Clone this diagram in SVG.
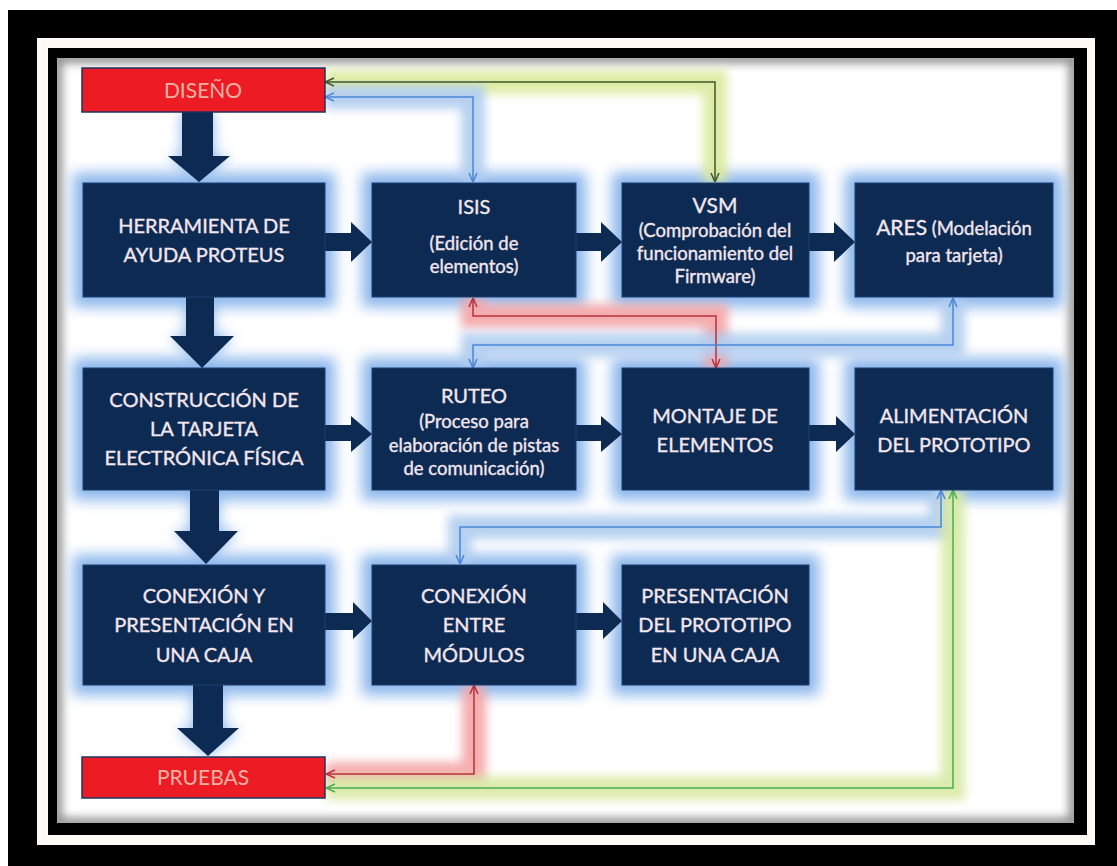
<svg xmlns="http://www.w3.org/2000/svg" width="1117" height="866" viewBox="0 0 1117 866">
<defs>
<style>
.box{fill:#0c2a52;stroke:#1c3f70;stroke-width:1}
.glowbox{fill:#8ab6ec;filter:url(#blur6)}
.t{font-family:Lato,"Liberation Sans",sans-serif;fill:#f3e6ee;text-anchor:middle;font-size:20px;stroke:#f3e6ee;stroke-width:0.35}
.s{font-size:18.5px}
.red{fill:#ed1c24;stroke:#1e3560;stroke-width:1.5}
.rt{font-family:Lato,"Liberation Sans",sans-serif;fill:#f3b2a4;text-anchor:middle;font-size:21px}
.big{fill:#0c2a52}
.line{fill:none;stroke-width:1.5}
.halo{fill:none;stroke-width:24;filter:url(#blur5);stroke-linejoin:miter;opacity:0.9}
</style>
<filter id="blur6" x="-30%" y="-30%" width="160%" height="160%"><feGaussianBlur stdDeviation="7"/></filter>
<filter id="blur5" x="-20%" y="-20%" width="140%" height="140%"><feGaussianBlur stdDeviation="5"/></filter>
<filter id="inner" x="-5%" y="-5%" width="110%" height="110%"><feGaussianBlur stdDeviation="5"/></filter>
<clipPath id="clipIn"><rect x="57" y="58" width="1017" height="765"/></clipPath>
<marker id="mG" viewBox="0 0 10 10" refX="10" refY="5" markerWidth="10" markerHeight="10" markerUnits="userSpaceOnUse" orient="auto-start-reverse"><path d="M1,1 L10,5 L1,9" fill="none" stroke="#3d5a2a" stroke-width="1.5"/></marker>
<marker id="mB" viewBox="0 0 10 10" refX="10" refY="5" markerWidth="10" markerHeight="10" markerUnits="userSpaceOnUse" orient="auto-start-reverse"><path d="M1,1 L10,5 L1,9" fill="none" stroke="#4a86d8" stroke-width="1.5"/></marker>
<marker id="mR" viewBox="0 0 10 10" refX="10" refY="5" markerWidth="10" markerHeight="10" markerUnits="userSpaceOnUse" orient="auto-start-reverse"><path d="M1,1 L10,5 L1,9" fill="none" stroke="#b8303c" stroke-width="1.5"/></marker>
<marker id="mL" viewBox="0 0 10 10" refX="10" refY="5" markerWidth="10" markerHeight="10" markerUnits="userSpaceOnUse" orient="auto-start-reverse"><path d="M1,1 L10,5 L1,9" fill="none" stroke="#4cae4c" stroke-width="1.5"/></marker>
</defs>

<!-- frame -->
<rect x="0" y="0" width="1117" height="866" fill="#ffffff"/>
<rect x="8" y="10" width="1109" height="856" fill="#000000"/>
<rect x="37" y="38" width="1058" height="807" fill="#fffaf6"/>
<rect x="48" y="48" width="1039" height="787" fill="#000000"/>
<rect x="57" y="58" width="1017" height="765" fill="#ffffff"/>
<g clip-path="url(#clipIn)"><rect x="57" y="58" width="1017" height="765" fill="none" stroke="#8a8a8a" stroke-width="10" filter="url(#inner)"/></g>

<!-- glows -->
<g id="glows">
<rect class="glowbox" x="73" y="173" width="262" height="134"/>
<rect class="glowbox" x="362" y="173" width="224" height="134"/>
<rect class="glowbox" x="612" y="173" width="207" height="134"/>
<rect class="glowbox" x="845" y="173" width="218" height="134"/>
<rect class="glowbox" x="73" y="358" width="262" height="142"/>
<rect class="glowbox" x="362" y="358" width="224" height="142"/>
<rect class="glowbox" x="612" y="358" width="207" height="142"/>
<rect class="glowbox" x="845" y="358" width="218" height="142"/>
<rect class="glowbox" x="73" y="555" width="262" height="140"/>
<rect class="glowbox" x="362" y="555" width="224" height="140"/>
<rect class="glowbox" x="612" y="555" width="207" height="140"/>
<path d="M182,112 V156 H168 L199,182 L230,156 H213 V112 Z" fill="#8ab6ec" filter="url(#blur6)"/>
<path d="M186,297 V336 H170 L202,368 L234,336 H214 V297 Z" fill="#8ab6ec" filter="url(#blur6)"/>
<path d="M190,490 V531 H174 L206,564 L238,531 H219 V490 Z" fill="#8ab6ec" filter="url(#blur6)"/>
<path d="M193,685 V728 H177 L208,756 L239,728 H223 V685 Z" fill="#8ab6ec" filter="url(#blur6)"/>
</g>

<!-- connector halos -->
<g id="halos">
<path class="halo" d="M325,82 H715 V182" stroke="#dbe99c"/>
<path class="halo" d="M325,97 H473 V182" stroke="#b0ccf0"/>
<path class="halo" d="M473,298 V316 H716 V368" stroke="#f4a4a6"/>
<path class="halo" d="M953,298 V345 H473 V368" stroke="#b0ccf0"/>
<path class="halo" d="M941,490 V527 H460 V564" stroke="#b0ccf0"/>
<path class="halo" d="M474,685 V774 H326" stroke="#f4a4a6"/>
<path class="halo" d="M326,788 H953 V490" stroke="#d8eaa6"/>
</g>

<!-- big arrows -->
<g id="flow-arrows">
<path class="big" d="M182,112 V156 H168 L199,182 L230,156 H213 V112 Z"/>
<path class="big" d="M186,297 V336 H170 L202,368 L234,336 H214 V297 Z"/>
<path class="big" d="M190,490 V531 H174 L206,564 L238,531 H219 V490 Z"/>
<path class="big" d="M193,685 V728 H177 L208,756 L239,728 H223 V685 Z"/>
<path class="big" d="M325,233 H351 V222 L372,242 L351,262 V251 H325 Z"/>
<path class="big" d="M576,233 H601 V222 L622,242 L601,262 V251 H576 Z"/>
<path class="big" d="M809,233 H834 V222 L855,242 L834,262 V251 H809 Z"/>
<path class="big" d="M325,425 H351 V416 L372,434 L351,452 V441 H325 Z"/>
<path class="big" d="M576,425 H601 V416 L622,434 L601,452 V441 H576 Z"/>
<path class="big" d="M809,425 H836 V416 L855,434 L836,452 V441 H809 Z"/>
<path class="big" d="M325,613 H353 V602 L372,621 L353,639 V630 H325 Z"/>
<path class="big" d="M576,613 H603 V602 L622,621 L603,639 V630 H576 Z"/>
</g>

<!-- connectors -->
<g id="connectors">
<path class="line" d="M325,82 H715 V182" stroke="#3d5a2a" marker-start="url(#mG)" marker-end="url(#mG)"/>
<path class="line" d="M325,97 H473 V182" stroke="#4a86d8" marker-start="url(#mB)" marker-end="url(#mB)"/>
<path class="line" d="M473,298 V316 H716 V368" stroke="#b8303c" marker-start="url(#mR)" marker-end="url(#mR)"/>
<path class="line" d="M953,298 V345 H473 V368" stroke="#4a86d8" marker-start="url(#mB)" marker-end="url(#mB)"/>
<path class="line" d="M941,490 V527 H460 V564" stroke="#4a86d8" marker-start="url(#mB)" marker-end="url(#mB)"/>
<path class="line" d="M474,685 V774 H326" stroke="#b8303c" marker-start="url(#mR)" marker-end="url(#mR)"/>
<path class="line" d="M326,788 H953 V490" stroke="#4cae4c" marker-start="url(#mL)" marker-end="url(#mL)"/>
</g>

<!-- nodes -->
<g id="diseno"><rect class="red" x="82" y="68" width="243" height="44"/><text class="rt" x="203" y="98">DISEÑO</text></g>
<g id="pruebas"><rect class="red" x="82" y="757" width="243" height="41"/><text class="rt" x="203" y="785">PRUEBAS</text></g>

<g id="herramienta"><rect class="box" x="83" y="183" width="242" height="114"/>
<text class="t" x="204" y="233">HERRAMIENTA DE</text><text class="t" x="204" y="262">AYUDA PROTEUS</text></g>
<g id="isis"><rect class="box" x="372" y="183" width="204" height="114"/>
<text class="t" x="474" y="214">ISIS</text><text class="t s" x="474" y="250">(Edición de</text><text class="t s" x="474" y="273">elementos)</text></g>
<g id="vsm"><rect class="box" x="622" y="183" width="187" height="114"/>
<text class="t" x="715" y="213" style="font-size:21px">VSM</text><text class="t s" x="715" y="237">(Comprobación del</text><text class="t s" x="715" y="260">funcionamiento del</text><text class="t s" x="715" y="283">Firmware)</text></g>
<g id="ares"><rect class="box" x="855" y="183" width="198" height="114"/>
<text class="t" x="954" y="235"><tspan style="font-size:21px">ARES</tspan><tspan class="s"> (Modelación</tspan></text><text class="t s" x="954" y="262">para tarjeta)</text></g>

<g id="construccion"><rect class="box" x="83" y="368" width="242" height="122"/>
<text class="t" x="204" y="407">CONSTRUCCIÓN DE</text><text class="t" x="204" y="436">LA TARJETA</text><text class="t" x="204" y="465">ELECTRÓNICA FÍSICA</text></g>
<g id="ruteo"><rect class="box" x="372" y="368" width="204" height="122"/>
<text class="t" x="474" y="403">RUTEO</text><text class="t s" x="474" y="428">(Proceso para</text><text class="t s" x="474" y="452">elaboración de pistas</text><text class="t s" x="474" y="475">de comunicación)</text></g>
<g id="montaje"><rect class="box" x="622" y="368" width="187" height="122"/>
<text class="t" x="715" y="423">MONTAJE DE</text><text class="t" x="715" y="452">ELEMENTOS</text></g>
<g id="alimentacion"><rect class="box" x="855" y="368" width="198" height="122"/>
<text class="t" x="954" y="423">ALIMENTACIÓN</text><text class="t" x="954" y="452">DEL PROTOTIPO</text></g>

<g id="conexion-caja"><rect class="box" x="83" y="565" width="242" height="120"/>
<text class="t" x="204" y="603">CONEXIÓN Y</text><text class="t" x="204" y="632">PRESENTACIÓN EN</text><text class="t" x="204" y="662">UNA CAJA</text></g>
<g id="conexion-modulos"><rect class="box" x="372" y="565" width="204" height="120"/>
<text class="t" x="474" y="603">CONEXIÓN</text><text class="t" x="474" y="632">ENTRE</text><text class="t" x="474" y="662">MÓDULOS</text></g>
<g id="presentacion"><rect class="box" x="622" y="565" width="187" height="120"/>
<text class="t" x="715" y="603">PRESENTACIÓN</text><text class="t" x="715" y="632">DEL PROTOTIPO</text><text class="t" x="715" y="662">EN UNA CAJA</text></g>
</svg>
